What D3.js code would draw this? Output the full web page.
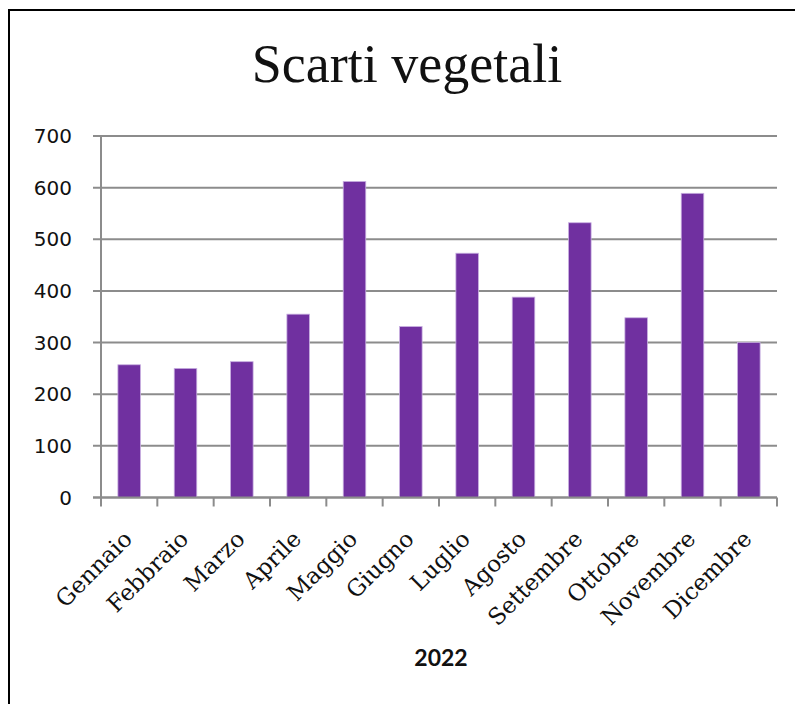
<!DOCTYPE html>
<html>
<head>
<meta charset="utf-8">
<script src="https://cdn.jsdelivr.net/npm/d3@7"></script>
<style>
  body { margin: 0; background: #fff; }
</style>
</head>
<body>
<div id="chart"></div>
<script>
// data
var months = ["Gennaio", "Febbraio", "Marzo", "Aprile", "Maggio", "Giugno",
              "Luglio", "Agosto", "Settembre", "Ottobre", "Novembre", "Dicembre"];
var values = [257, 250, 263, 355, 612, 331, 473, 388, 532, 348, 589, 300];
var yTicks = [0, 100, 200, 300, 400, 500, 600, 700];
var title = "Scarti vegetali";
var xTitle = "2022";

var width = 795, height = 704;
var plotLeft = 101, plotRight = 777, plotTop = 136, plotBottom = 497.5;

var svg = d3.select("#chart").append("svg")
  .attr("width", width)
  .attr("height", height);

// outer frame
svg.append("rect")
  .attr("x", 9).attr("y", 10)
  .attr("width", 820).attr("height", 800)
  .attr("fill", "none")
  .attr("stroke", "#000")
  .attr("stroke-width", 2);

var x = d3.scaleBand()
  .domain(months)
  .range([plotLeft, plotRight])
  .paddingInner(0.6)
  .paddingOuter(0.3);

var y = d3.scaleLinear()
  .domain([0, 700])
  .range([plotBottom, plotTop]);

// gridlines
svg.append("g")
  .selectAll("line")
  .data(yTicks)
  .enter()
  .append("line")
    .attr("x1", plotLeft - 8)
    .attr("x2", plotRight)
    .attr("y1", d => y(d))
    .attr("y2", d => y(d))
    .attr("stroke", "#8c8c8c")
    .attr("stroke-width", 2);

// y axis labels
svg.append("g")
  .selectAll("text")
  .data(yTicks)
  .enter()
  .append("text")
    .attr("x", 72)
    .attr("y", d => y(d))
    .attr("dy", "0.35em")
    .attr("text-anchor", "end")
    .style("font-family", "'DejaVu Sans', sans-serif")
    .style("font-size", "20px")
    .style("fill", "#111")
    .text(d => d);

// bars
svg.append("g")
  .selectAll("rect")
  .data(values)
  .enter()
  .append("rect")
    .attr("x", (d, i) => x(months[i]))
    .attr("y", d => y(d))
    .attr("width", x.bandwidth())
    .attr("height", d => y(0) - y(d))
    .attr("fill", "#7030a0")
    .attr("stroke", "#c7aee0")
    .attr("stroke-width", 0.8);

// axis lines
svg.append("line")
  .attr("x1", plotLeft).attr("x2", plotLeft)
  .attr("y1", plotTop).attr("y2", plotBottom + 8)
  .attr("stroke", "#8c8c8c").attr("stroke-width", 2);

svg.append("line")
  .attr("x1", plotLeft - 8).attr("x2", plotRight)
  .attr("y1", plotBottom).attr("y2", plotBottom)
  .attr("stroke", "#8c8c8c").attr("stroke-width", 2);

// x ticks at band boundaries
var step = x.step();
svg.append("g")
  .selectAll("line")
  .data(d3.range(months.length + 1))
  .enter()
  .append("line")
    .attr("x1", i => plotLeft + i * step)
    .attr("x2", i => plotLeft + i * step)
    .attr("y1", plotBottom)
    .attr("y2", plotBottom + 9)
    .attr("stroke", "#8c8c8c")
    .attr("stroke-width", 2);

// month labels
svg.append("g")
  .selectAll("text")
  .data(months)
  .enter()
  .append("text")
    .attr("transform", d => "translate(" + (x(d) + x.bandwidth() / 2 - 7) + "," + 529 + ") rotate(-45)")
    .attr("text-anchor", "end")
    .attr("dy", "0.7em")
    .style("font-family", "'DejaVu Serif', serif")
    .style("font-size", "23px")
    .style("fill", "#111")
    .text(d => d);

// title
svg.append("text")
  .attr("x", 407)
  .attr("y", 82)
  .attr("text-anchor", "middle")
  .style("font-family", "'Liberation Serif', serif")
  .style("font-size", "54px")
  .style("fill", "#111")
  .text(title);

// x axis title
svg.append("text")
  .attr("x", (plotLeft + plotRight) / 2 + 2)
  .attr("y", 666)
  .attr("text-anchor", "middle")
  .style("font-family", "Lato, sans-serif")
  .style("font-weight", "bold")
  .style("font-size", "23px")
  .style("fill", "#111")
  .text(xTitle);
</script>
</body>
</html>
